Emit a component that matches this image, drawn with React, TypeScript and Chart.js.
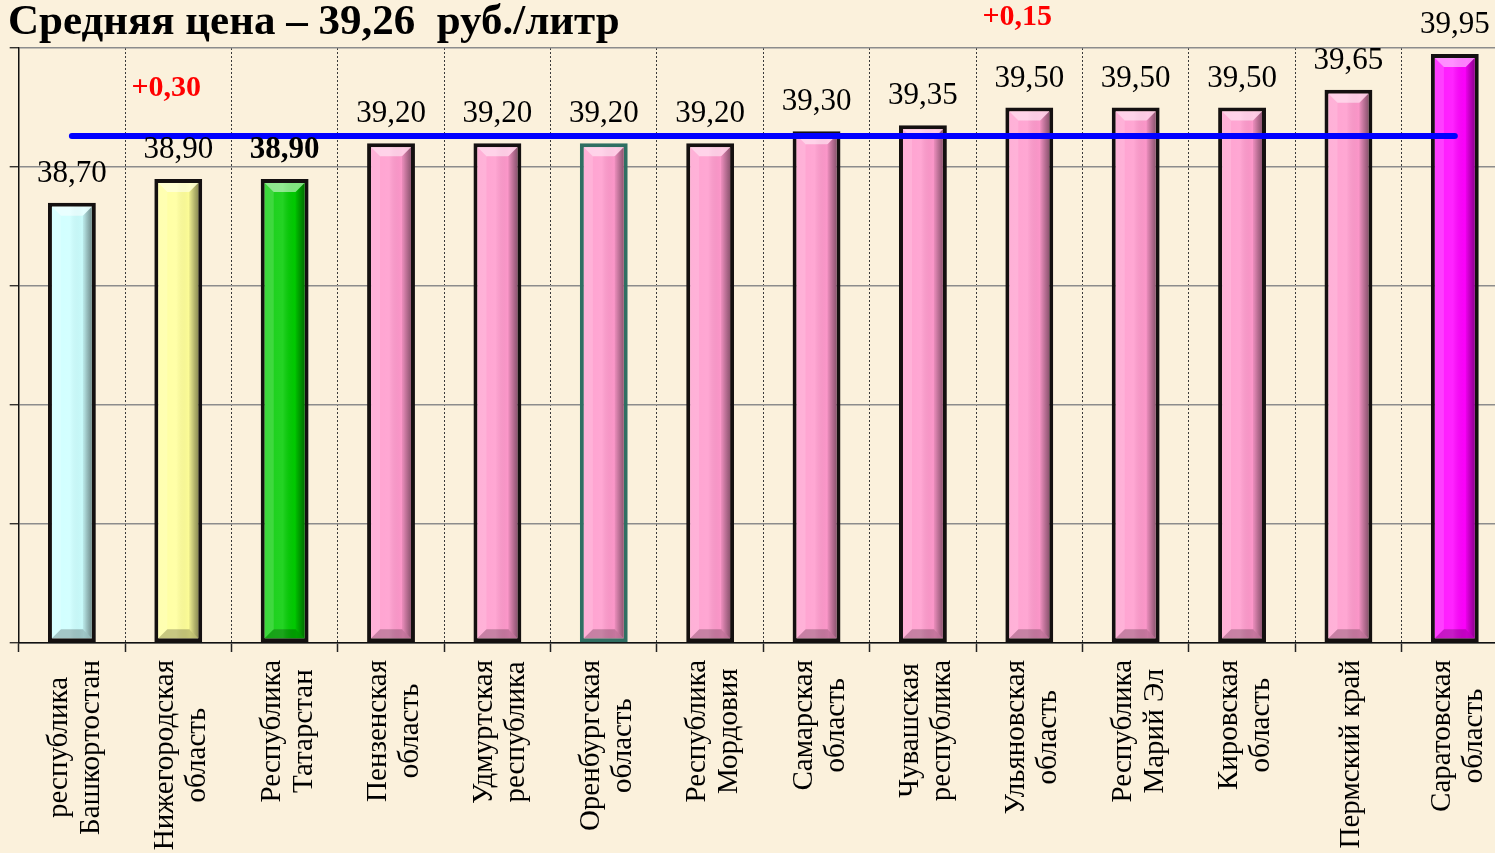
import React, { useEffect, useRef } from "react";
import { Chart, registerables } from "chart.js";

Chart.register(...registerables);

const titleText = "Средняя цена – 39,26  руб./литр";

const categories: string[][] = [
  ["республика", "Башкортостан"],
  ["Нижегородская", "область"],
  ["Республика", "Татарстан"],
  ["Пензенская", "область"],
  ["Удмуртская", "республика"],
  ["Оренбургская", "область"],
  ["Республика", "Мордовия"],
  ["Самарская", "область"],
  ["Чувашская", "республика"],
  ["Ульяновская", "область"],
  ["Республика", "Марий Эл"],
  ["Кировская", "область"],
  ["Пермский край"],
  ["Саратовская", "область"],
];

const prices: number[] = [
  38.7, 38.9, 38.9, 39.2, 39.2, 39.2, 39.2, 39.3, 39.35, 39.5, 39.5, 39.5, 39.65, 39.95,
];

const averageLine: number[] = [
  39.26, 39.26, 39.26, 39.26, 39.26, 39.26, 39.26, 39.26, 39.26, 39.26, 39.26, 39.26, 39.26, 39.26,
];

const changes: string[] = ["", "+0,30", "", "", "", "", "", "", "", "+0,15", "", "", "", ""];

const boldValueIdx: number[] = [2];

const barColors: string[] = [
  "#CCFFFF", "#FFFF99", "#00CC00", "#FF99CC", "#FF99CC", "#FF99CC", "#FF99CC",
  "#FF99CC", "#FF99CC", "#FF99CC", "#FF99CC", "#FF99CC", "#FF99CC", "#FF00FF",
];

const barBorders: string[] = [
  "#141010", "#141010", "#141010", "#141010", "#141010", "#2F6F62", "#141010",
  "#141010", "#141010", "#141010", "#141010", "#141010", "#141010", "#141010",
];

const yMin = 35;
const yMax = 40;
const yStep = 1;

const SERIF = "'Liberation Serif', 'Times New Roman', 'DejaVu Serif', serif";

const fmt = (v: number) => v.toFixed(2).replace(".", ",");

const decor = {
  id: "decor",
  afterDatasetDraw(chart: any, args: any) {
    if (args.meta.type !== "bar") return;
    const ctx = chart.ctx as CanvasRenderingContext2D;
    const area = chart.chartArea;
    const bw = 4;
    const b = 9;
    args.meta.data.forEach((el: any) => {
      const { x, y, base, width } = el.getProps(["x", "y", "base", "width"], true);
      const il = x - width / 2 + bw;
      const ir = x + width / 2 - bw;
      const it = Math.max(Math.min(y, base), area.top) + bw;
      const ib = Math.min(Math.max(y, base), area.bottom) - bw;
      ctx.save();
      const g = ctx.createLinearGradient(il, 0, ir, 0);
      g.addColorStop(0, "rgba(255,255,255,0.10)");
      g.addColorStop(0.45, "rgba(255,255,255,0.14)");
      g.addColorStop(0.8, "rgba(0,0,0,0.0)");
      g.addColorStop(1, "rgba(0,0,0,0.10)");
      ctx.fillStyle = g;
      ctx.fillRect(il, it, ir - il, ib - it);
      // top face
      ctx.beginPath();
      ctx.moveTo(il, it);
      ctx.lineTo(ir, it);
      ctx.lineTo(ir - b, it + b);
      ctx.lineTo(il + b, it + b);
      ctx.closePath();
      ctx.fillStyle = "rgba(255,255,255,0.5)";
      ctx.fill();
      // left face
      ctx.beginPath();
      ctx.moveTo(il, it);
      ctx.lineTo(il + b, it + b);
      ctx.lineTo(il + b, ib - b);
      ctx.lineTo(il, ib);
      ctx.closePath();
      ctx.fillStyle = "rgba(255,255,255,0.15)";
      ctx.fill();
      // right face
      ctx.beginPath();
      ctx.moveTo(ir, it);
      ctx.lineTo(ir, ib);
      ctx.lineTo(ir - b, ib - b);
      ctx.lineTo(ir - b, it + b);
      ctx.closePath();
      const gr = ctx.createLinearGradient(ir - b, 0, ir, 0);
      gr.addColorStop(0, "rgba(0,0,0,0.08)");
      gr.addColorStop(1, "rgba(0,0,0,0.38)");
      ctx.fillStyle = gr;
      ctx.fill();
      // bottom face
      ctx.beginPath();
      ctx.moveTo(il, ib);
      ctx.lineTo(ir, ib);
      ctx.lineTo(ir - b, ib - b);
      ctx.lineTo(il + b, ib - b);
      ctx.closePath();
      ctx.fillStyle = "rgba(0,0,0,0.22)";
      ctx.fill();
      ctx.restore();
    });
  },
  afterDraw(chart: any) {
    const ctx = chart.ctx as CanvasRenderingContext2D;
    const xScale = chart.scales.x;
    const barMeta = chart.getDatasetMeta(1);
    ctx.save();
    ctx.fillStyle = "#000";
    ctx.font = `bold 43px ${SERIF}`;
    ctx.textAlign = "left";
    ctx.textBaseline = "alphabetic";
    ctx.fillText(titleText, 8, 34);

    barMeta.data.forEach((el: any, i: number) => {
      const { x, y } = el.getProps(["x", "y"], true);
      const bold = boldValueIdx.includes(i);
      ctx.font = `${bold ? "bold " : ""}31px ${SERIF}`;
      ctx.fillStyle = "#000";
      ctx.textAlign = "center";
      ctx.textBaseline = "alphabetic";
      const baseY = y - 21;
      ctx.fillText(fmt(prices[i]), x, baseY);
      if (changes[i]) {
        ctx.font = `bold 30px ${SERIF}`;
        ctx.fillStyle = "#FF0000";
        ctx.fillText(changes[i], x - 12, baseY - 62);
      }
    });

    ctx.font = `29px ${SERIF}`;
    ctx.fillStyle = "#000";
    ctx.textAlign = "center";
    ctx.textBaseline = "alphabetic";
    const labelTop = xScale.top + 17;
    const pitch = 32;
    categories.forEach((lines, i) => {
      const cx = xScale.getPixelForValue(i);
      const maxW = Math.max(...lines.map((l) => ctx.measureText(l).width));
      const centerY = labelTop + maxW / 2;
      ctx.save();
      ctx.translate(cx, 0);
      ctx.rotate(-Math.PI / 2);
      lines.forEach((line, j) => {
        const off = 11 + (j - (lines.length - 1) / 2) * pitch;
        ctx.fillText(line, -centerY, off);
      });
      ctx.restore();
    });
    ctx.restore();
  },
};

export default function App() {
  const ref = useRef<HTMLCanvasElement | null>(null);

  useEffect(() => {
    const canvas = ref.current;
    if (!canvas) return;
    canvas.width = 1508;
    canvas.height = 853;
    Chart.defaults.font.family = SERIF;
    const chart = new Chart(canvas, {
      type: "bar",
      data: {
        labels: categories.map((c) => c.join(" ")),
        datasets: [
          {
            type: "line",
            data: averageLine,
            borderColor: "#0000FF",
            borderWidth: 6,
            borderCapStyle: "round",
            pointRadius: 0,
            fill: false,
            order: 0,
          } as any,
          {
            type: "bar",
            data: prices,
            base: yMin,
            backgroundColor: barColors,
            borderColor: barBorders,
            borderWidth: 4,
            borderSkipped: false,
            barPercentage: 0.45,
            categoryPercentage: 1,
            order: 1,
          } as any,
        ],
      },
      options: {
        responsive: false,
        animation: false,
        devicePixelRatio: 1,
        layout: { padding: { top: 48, left: 0, right: 0, bottom: 0 } },
        plugins: {
          legend: { display: false },
          title: { display: false },
          tooltip: { enabled: false },
        },
        scales: {
          x: {
            offset: true,
            ticks: { display: false },
            grid: {
              display: true,
              offset: true,
              color: "#3a3a3a",
              lineWidth: 1,
              tickColor: "#222",
              tickLength: 9,
              tickWidth: 1.5,
              tickBorderDash: [],
            },
            border: { display: true, color: "#111", width: 1.5, dash: [2, 2] },
            afterFit: (scale: any) => {
              scale.height = 210;
            },
          },
          y: {
            min: yMin,
            max: yMax,
            ticks: { display: false, stepSize: yStep },
            grid: {
              display: true,
              color: "#8c8c8c",
              lineWidth: 1.5,
              tickColor: "#111",
              tickLength: 9,
              tickWidth: 1.2,
            },
            border: { display: true, color: "#111", width: 1.5 },
            afterFit: (scale: any) => {
              scale.width = 18.7;
            },
          },
        },
      },
      plugins: [decor],
    } as any);
    return () => chart.destroy();
  }, []);

  return (
    <div
      style={{
        position: "fixed",
        left: 0,
        top: 0,
        width: 1495,
        height: 853,
        overflow: "hidden",
        background: "#FBF1DC",
      }}
    >
      <canvas ref={ref} style={{ display: "block", width: 1508, height: 853 }} />
    </div>
  );
}
